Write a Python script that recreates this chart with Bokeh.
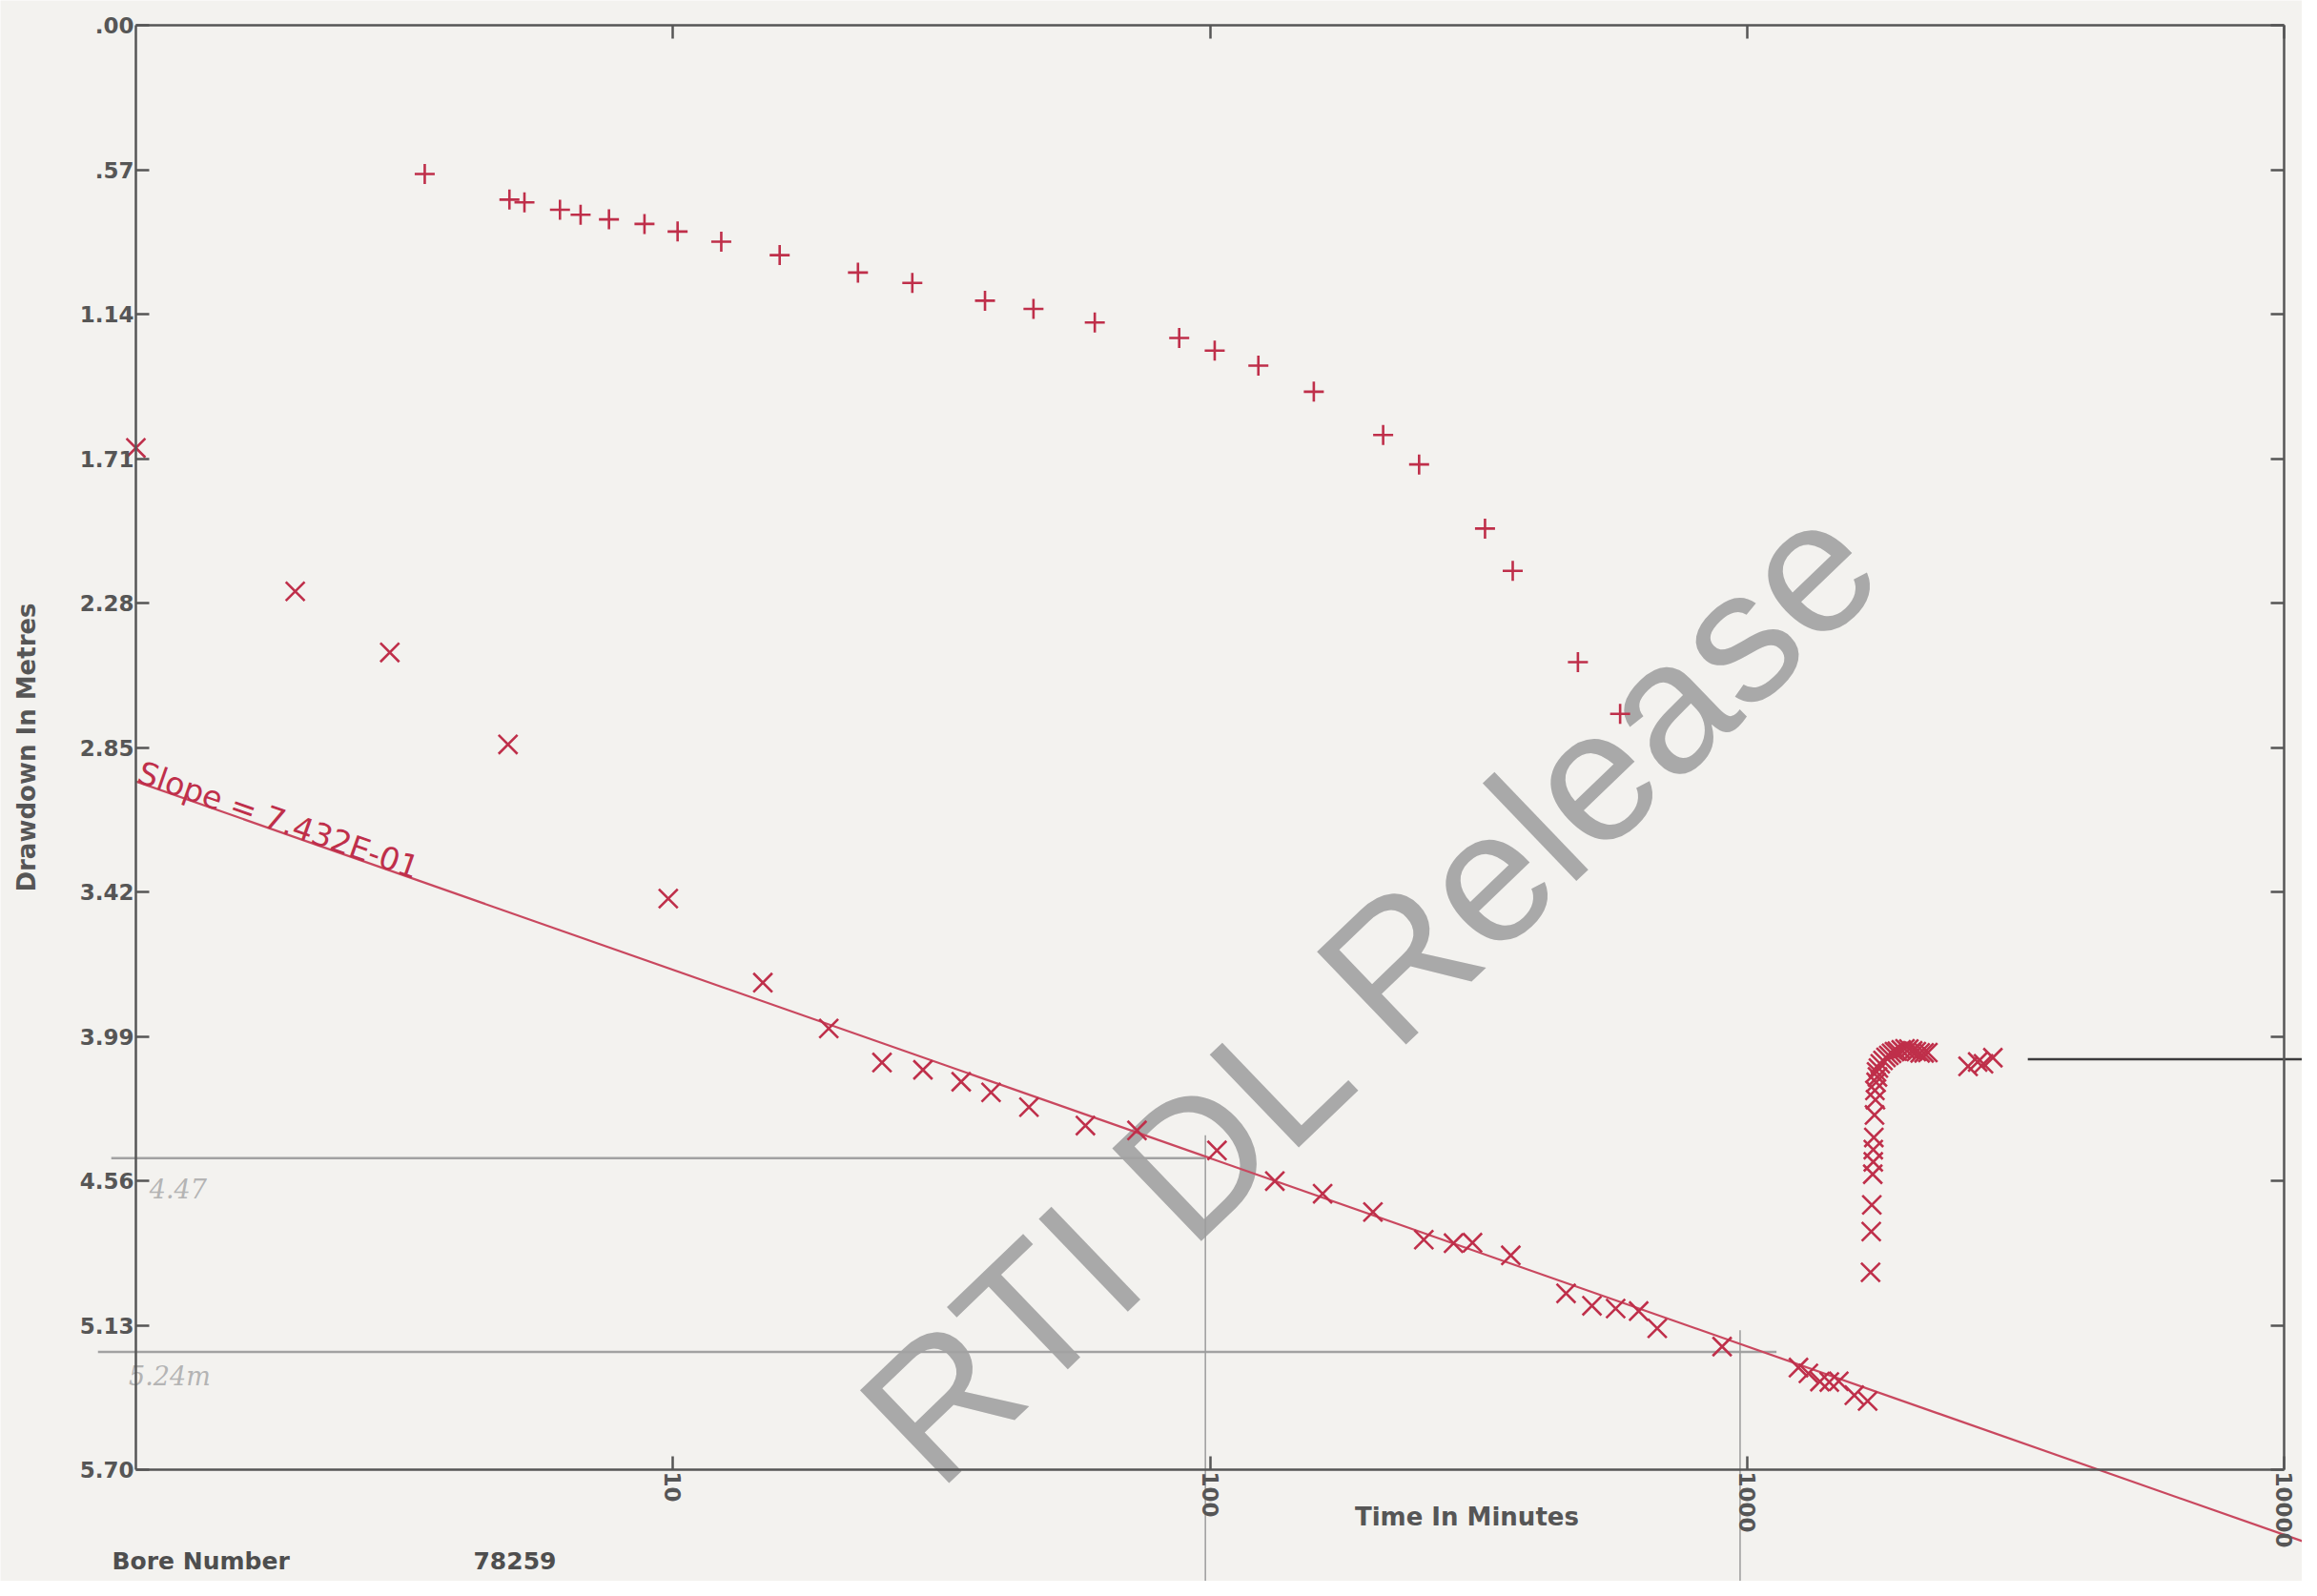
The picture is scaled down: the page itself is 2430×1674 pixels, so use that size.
import math
from bokeh.plotting import figure
from bokeh.models import Range1d, LinearAxis, LogAxis, FixedTicker
from bokeh.core.properties import value
from bokeh.embed import file_html
from bokeh.resources import INLINE

# ---------------- data ----------------
# observation bore (+ markers): time (min), drawdown (m)
obs_t = [3.45, 4.96, 5.29, 6.16, 6.73, 7.60, 8.85, 10.2, 12.3, 15.8, 22.1, 27.9, 38.1,
         46.9, 61.0, 87.6, 102, 123, 156, 210, 245, 325, 366, 484, 580]
obs_s = [0.587, 0.688, 0.699, 0.728, 0.748, 0.766, 0.784, 0.814, 0.854, 0.907, 0.976,
         1.017, 1.087, 1.119, 1.173, 1.234, 1.284, 1.343, 1.446, 1.617, 1.733, 1.986,
         2.153, 2.513, 2.717]

# pumped bore (x markers)
pump_t = [1.0, 1.98, 2.97, 4.93, 9.80, 14.7, 19.5, 24.5, 29.2, 34.4, 39.1, 46.0, 58.6,
          73.1, 103, 132, 162, 201, 250, 284, 308, 363, 460, 514, 569, 628, 680, 898,
          1246, 1300, 1366, 1422, 1481, 1583, 1676]
pump_s = [1.668, 2.234, 2.475, 2.838, 3.446, 3.778, 3.959, 4.093, 4.122, 4.169, 4.211,
          4.269, 4.342, 4.361, 4.440, 4.561, 4.611, 4.683, 4.792, 4.806, 4.804, 4.854,
          5.004, 5.053, 5.064, 5.074, 5.142, 5.214, 5.297, 5.320, 5.352, 5.354, 5.351,
          5.406, 5.429]

# recovery readings (x markers)
rec_t = [1697, 1702, 1706, 1713, 1717, 1717, 1721, 1726, 1729, 1733, 1738, 1741, 1748,
         1755, 1769, 1790, 1813, 1835, 1857, 1880, 1903, 1935, 1967, 2000, 2033, 2065,
         2099, 2135, 2170, 2578, 2686, 2754, 2867]
rec_s = [4.921, 4.760, 4.655, 4.534, 4.485, 4.437, 4.389, 4.300, 4.203, 4.240, 4.171,
         4.130, 4.150, 4.115, 4.098, 4.085, 4.073, 4.065, 4.057, 4.050, 4.048, 4.043,
         4.039, 4.040, 4.047, 4.050, 4.055, 4.055, 4.054, 4.108, 4.091, 4.098, 4.074]

# fitted straight line (Jacob), slope printed on chart
fit_slope = 0.7432
fit_intercept = 2.984
fit_t = [1.0, 12000.0]

# hand-drawn pencil construction lines
pencil_h_level = [4.47, 5.235]
pencil_h_from = [0.90, 0.85]
pencil_h_to = [98, 1134]
pencil_v_t = [98, 970]
pencil_v_top = [4.38, 5.15]
pencil_v_bottom = [6.4, 6.4]
pencil_notes = ["4.47", "5.24m"]
pencil_note_t = [1.06, 0.97]
pencil_note_s = [4.59, 5.33]

# black level line at right
level_s = 4.08
level_t = [3330, 12000]

# axes
t_axis_min, t_axis_max = 1, 10000
s_axis_min, s_axis_max = 0.0, 5.70
x_ticks = [10, 100, 1000, 10000]
x_tick_labels = ["10", "100", "1000", "10000"]
y_ticks = [0.0, 0.57, 1.14, 1.71, 2.28, 2.85, 3.42, 3.99, 4.56, 5.13, 5.70]
y_tick_labels = [".00", ".57", "1.14", "1.71", "2.28", "2.85", "3.42", "3.99", "4.56", "5.13", "5.70"]

slope_text = "Slope =  7.432E-01"
bore_label = "Bore Number"
bore_value = "78259"

# ---------------- layout constants ----------------
W, H = 2414, 1658
PX_T1 = 142.0    # canvas x of t = 1
PX_DEC = 563.3   # canvas px per decade
PX_S0 = 26.0     # canvas y of zero drawdown
PX_M = 265.8     # canvas px per metre

x_lo = 10 ** (-PX_T1 / PX_DEC)
x_hi = 10 ** ((W - PX_T1) / PX_DEC)
y_top = -PX_S0 / PX_M
y_bot = (H - PX_S0) / PX_M

PAPER = "#f3f2ef"
AX = "#565656"
RED = "#bf2f4a"
REDLINE = "#c9485f"
PENCIL = "#a2a2a2"
FONT = "DejaVu Sans"

p = figure(width=W, height=H, x_axis_type="log",
           x_range=Range1d(x_lo, x_hi), y_range=Range1d(y_bot, y_top),
           x_axis_location=None, y_axis_location=None,
           toolbar_location=None, output_backend="svg",
           min_border=0, min_border_left=0, min_border_right=0,
           min_border_top=0, min_border_bottom=0,
           outline_line_color=None,
           background_fill_color=PAPER, border_fill_color=PAPER)
p.grid.visible = False


def style_axis(ax, ticks, labels):
    ax.ticker = FixedTicker(ticks=ticks, minor_ticks=[])
    ax.axis_line_color = AX
    ax.axis_line_width = 2.5
    ax.major_tick_line_color = AX
    ax.major_tick_line_width = 2.5
    ax.major_tick_in = 14
    ax.major_tick_out = 0
    ax.minor_tick_line_color = None
    ax.major_label_standoff = 2
    ax.major_label_overrides = {t: l for t, l in zip(ticks, labels)}
    ax.major_label_text_font = FONT
    ax.major_label_text_font_style = "bold"
    ax.major_label_text_font_size = "23px"
    ax.major_label_text_color = AX


left = LinearAxis(fixed_location=t_axis_min, bounds=(s_axis_min, s_axis_max))
style_axis(left, y_ticks, y_tick_labels)
left.axis_label = "Drawdown In Metres"
left.axis_label_text_font = FONT
left.axis_label_text_font_style = "bold"
left.axis_label_text_font_size = "26px"
left.axis_label_text_color = AX
left.axis_label_standoff = 38
p.add_layout(left, "left")

right = LinearAxis(fixed_location=t_axis_max, bounds=(s_axis_min, s_axis_max))
style_axis(right, y_ticks, [""] * len(y_ticks))
p.add_layout(right, "right")

bottom = LogAxis(fixed_location=s_axis_max, bounds=(t_axis_min, t_axis_max))
style_axis(bottom, x_ticks, x_tick_labels)
bottom.major_label_orientation = -math.pi / 2
p.add_layout(bottom, "below")

top = LogAxis(fixed_location=s_axis_min, bounds=(t_axis_min, t_axis_max))
style_axis(top, x_ticks, [""] * len(x_ticks))
p.add_layout(top, "above")

# watermark
p.text(x=[200], y=[3.80], text=["RTI DL Release"], angle=0.765,
       text_align="center", text_baseline="middle",
       text_font=value("Liberation Sans"), text_font_size=value("196px"),
       text_color="#a9a9a9")

# pencil lines
for lvl, a, b in zip(pencil_h_level, pencil_h_from, pencil_h_to):
    p.line(x=[a, b], y=[lvl, lvl], line_color=PENCIL, line_width=2.5)
for t, a, b in zip(pencil_v_t, pencil_v_top, pencil_v_bottom):
    p.line(x=[t, t], y=[a, b], line_color="#9c9c9c", line_width=1.5)
p.text(x=pencil_note_t, y=pencil_note_s, text=pencil_notes,
       text_font=value("DejaVu Serif"), text_font_style="italic",
       text_font_size=value("27px"), text_color="#b4b4b4",
       text_baseline="alphabetic")

# level line
p.line(x=level_t, y=[level_s, level_s], line_color="#3c3c3c", line_width=2.5)

# fitted line
fit_s = [fit_intercept + fit_slope * math.log10(t) for t in fit_t]
p.line(x=fit_t, y=fit_s, line_color=REDLINE, line_width=2.2)

slope_angle = -math.atan(fit_slope * PX_M / PX_DEC)
p.text(x=[1.015], y=[fit_intercept + fit_slope * math.log10(1.015) - 0.045],
       text=[slope_text], angle=slope_angle, text_align="left",
       text_baseline="alphabetic", text_font=value(FONT),
       text_font_size=value("33px"), text_color=RED)

# markers
p.scatter(x=obs_t, y=obs_s, marker="cross", size=21, line_color=RED, line_width=2.6)
p.scatter(x=pump_t, y=pump_s, marker="x", size=28, line_color=RED, line_width=2.6)
p.scatter(x=rec_t, y=rec_s, marker="x", size=28, line_color=RED, line_width=2.6)

# texts below the axis
p.text(x=[186], y=[5.885], text=["Time In Minutes"], text_baseline="middle",
       text_align="left", text_font=value(FONT), text_font_style="bold",
       text_font_size=value("26px"), text_color=AX)
p.text(x=[0.903, 4.25], y=[6.06, 6.06], text=[bore_label, bore_value],
       text_baseline="middle", text_align="left", text_font=value(FONT),
       text_font_style="bold", text_font_size=value("25px"), text_color="#4e4e4e")

open("out.html", "w").write(file_html(p, INLINE))
